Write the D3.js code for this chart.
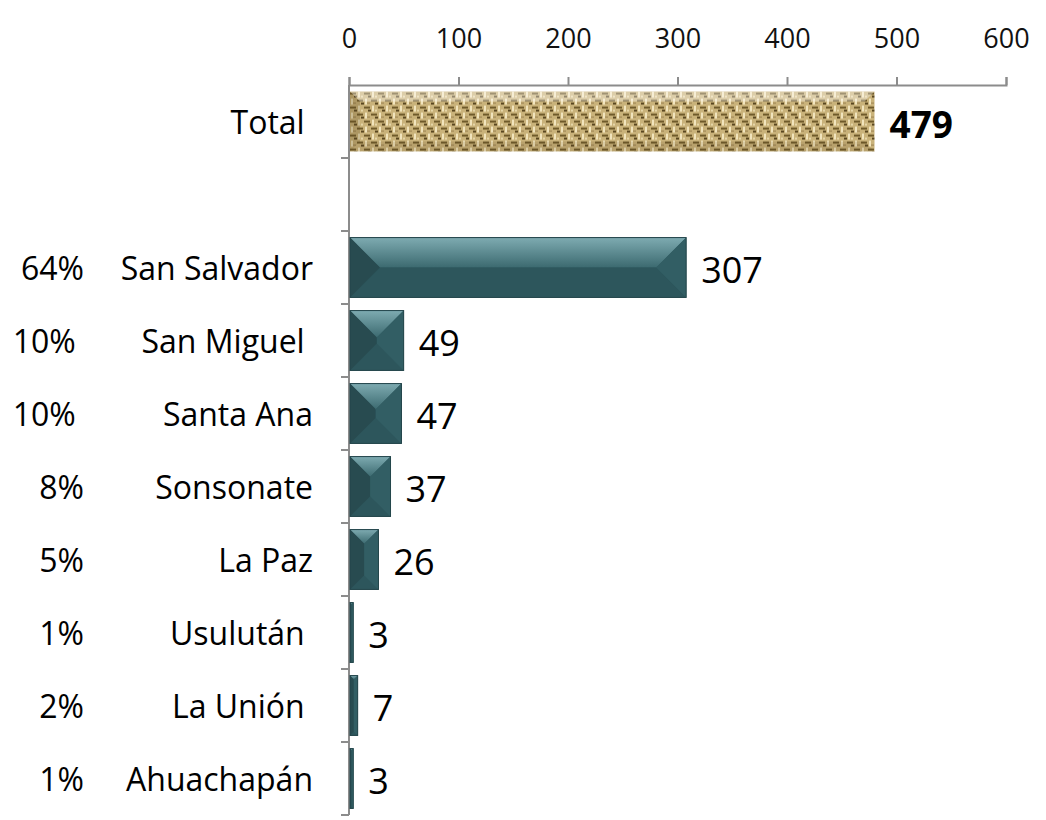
<!DOCTYPE html>
<html><head><meta charset="utf-8">
<script src="https://cdn.jsdelivr.net/npm/d3@7"></script>
<style>
html,body{margin:0;padding:0;background:#fff;}
text{font-family:"Open Sans",sans-serif;white-space:pre;}
</style></head>
<body><svg id="chart" width="1046" height="820"></svg>
<script>
const categories = ["Total ", "", "San Salvador", "San Miguel ", "Santa Ana", "Sonsonate", "La Paz", "Usulután ", "La Unión ", "Ahuachapán"];
const values = [479, null, 307, 49, 47, 37, 26, 3, 7, 3];
const percents = ["", "", "64%", "10% ", "10% ", "8%", "5%", "1%", "2%", "1%"];
const xTicks = [0, 100, 200, 300, 400, 500, 600];

const svg = d3.select("#chart");
const keys = categories.map((c, i) => i);
const x = d3.scaleLinear().domain([0, 600]).range([349, 1006]);
const y = d3.scaleBand().domain(keys).range([85, 815]).paddingInner(0.18).paddingOuter(0.09);

const defs = svg.append("defs");
// burlap pattern
const pat = defs.append("pattern").attr("id", "burlap").attr("patternUnits", "userSpaceOnUse")
  .attr("width", 14).attr("height", 14);
pat.append("rect").attr("width", 14).attr("height", 14).attr("fill", "#c9b27a");
pat.append("rect").attr("x", 0).attr("y", 1).attr("width", 6).attr("height", 2).attr("fill", "#6f5a2a");
pat.append("rect").attr("x", 7).attr("y", 8).attr("width", 6).attr("height", 2).attr("fill", "#6f5a2a");
pat.append("rect").attr("x", 8).attr("y", 0).attr("width", 2).attr("height", 6).attr("fill", "#f1e4bd");
pat.append("rect").attr("x", 1).attr("y", 7).attr("width", 2).attr("height", 6).attr("fill", "#f1e4bd");
pat.append("rect").attr("x", 4).attr("y", 4).attr("width", 3).attr("height", 2).attr("fill", "#5a4720");
pat.append("rect").attr("x", 11).attr("y", 11).attr("width", 3).attr("height", 2).attr("fill", "#5a4720");
pat.append("rect").attr("x", 3).attr("y", 11).attr("width", 3).attr("height", 1).attr("fill", "#9c8352");
pat.append("rect").attr("x", 11).attr("y", 4).attr("width", 2).attr("height", 2).attr("fill", "#e6d6a8");

const topGrad = defs.append("linearGradient").attr("id", "topGrad").attr("x1", 0).attr("y1", 0).attr("x2", 0).attr("y2", 1);
topGrad.append("stop").attr("offset", "0%").attr("stop-color", "#7eabb1");
topGrad.append("stop").attr("offset", "100%").attr("stop-color", "#3c6a70");

// axes
const axisColor = "#8c8c8c";
const gx = svg.append("g").attr("transform", "translate(0,85)")
  .call(d3.axisTop(x).tickValues(xTicks).tickSize(8).tickPadding(29).tickFormat(d3.format("d")));
gx.select(".domain").attr("stroke", axisColor).attr("stroke-width", 2);
gx.selectAll(".tick line").attr("stroke", axisColor).attr("stroke-width", 2);
gx.selectAll(".tick text").attr("font-size", 27).attr("fill", "#111").attr("font-family", "'Open Sans', sans-serif");

// left axis
const step = y.step();
const y0 = y.range()[0];
svg.append("line").attr("x1", x(0)).attr("x2", x(0)).attr("y1", y0).attr("y2", y.range()[1])
  .attr("stroke", axisColor).attr("stroke-width", 2);
svg.selectAll(".ltick").data(d3.range(1, keys.length + 1)).join("line")
  .attr("x1", x(0) - 8).attr("x2", x(0)).attr("y1", d => y0 + d * step).attr("y2", d => y0 + d * step)
  .attr("stroke", axisColor).attr("stroke-width", 2);

// bars
keys.forEach(i => {
  const v = values[i];
  if (v == null) return;
  const bx = x(0) + 1, by = y(i), w = x(v) - x(0), h = y.bandwidth();
  const g = svg.append("g").attr("transform", `translate(${bx},${by})`);
  if (i === 0) {
    g.append("rect").attr("width", w).attr("height", h).attr("fill", "url(#burlap)");
    const b = 10;
    g.append("polygon").attr("points", `0,0 ${w},0 ${w - b},${b} ${b},${b}`).attr("fill", "#fff").attr("opacity", 0.35);
    g.append("polygon").attr("points", `0,0 ${b},${b} ${b},${h - b} 0,${h}`).attr("fill", "#5a4620").attr("opacity", 0.25);
    g.append("polygon").attr("points", `0,${h} ${b},${h - b} ${w - b},${h - b} ${w},${h}`).attr("fill", "#5a4620").attr("opacity", 0.15);
    return;
  }
  const b = Math.min(h / 2, w / 2, 30);
  g.append("rect").attr("width", w).attr("height", h).attr("fill", "#2f5a60");
  g.append("rect").attr("x", b).attr("y", b).attr("width", Math.max(0, w - 2 * b)).attr("height", Math.max(0, h / 2 - b)).attr("fill", "#3c6a70");
  g.append("polygon").attr("points", `0,0 ${w},0 ${w - b},${b} ${b},${b}`).attr("fill", "url(#topGrad)");
  g.append("polygon").attr("points", `0,${h} ${b},${h - b} ${w - b},${h - b} ${w},${h}`).attr("fill", "#2d565c");
  g.append("polygon").attr("points", `0,0 ${b},${b} ${b},${h - b} 0,${h}`).attr("fill", "#284b50");
  g.append("polygon").attr("points", `${w},0 ${w - b},${b} ${w - b},${h - b} ${w},${h}`).attr("fill", "#325e64");
  g.append("rect").attr("width", w).attr("height", h).attr("fill", "none").attr("stroke", "#23454a").attr("stroke-width", 1);
});

// value labels
svg.selectAll(".vlab").data(keys.filter(i => values[i] != null)).join("text")
  .attr("x", i => x(values[i]) + 16)
  .attr("y", i => y(i) + y.bandwidth() / 2 + 2)
  .attr("dominant-baseline", "central")
  .attr("font-size", i => i === 0 ? 37 : 36)
  .attr("font-weight", i => i === 0 ? "bold" : "normal")
  .attr("fill", "#000")
  .text(i => values[i]);

// category labels
svg.selectAll(".clab").data(keys).join("text")
  .attr("x", 313).attr("y", i => y(i) + y.bandwidth() / 2)
  .attr("text-anchor", "end").attr("dominant-baseline", "central")
  .attr("font-size", 32).attr("fill", "#000")
  .text(i => categories[i]);

// percent labels
svg.selectAll(".plab").data(keys).join("text")
  .attr("x", 84).attr("y", i => y(i) + y.bandwidth() / 2)
  .attr("text-anchor", "end").attr("dominant-baseline", "central")
  .attr("font-size", 32).attr("fill", "#000")
  .text(i => percents[i]);
</script></body></html>
